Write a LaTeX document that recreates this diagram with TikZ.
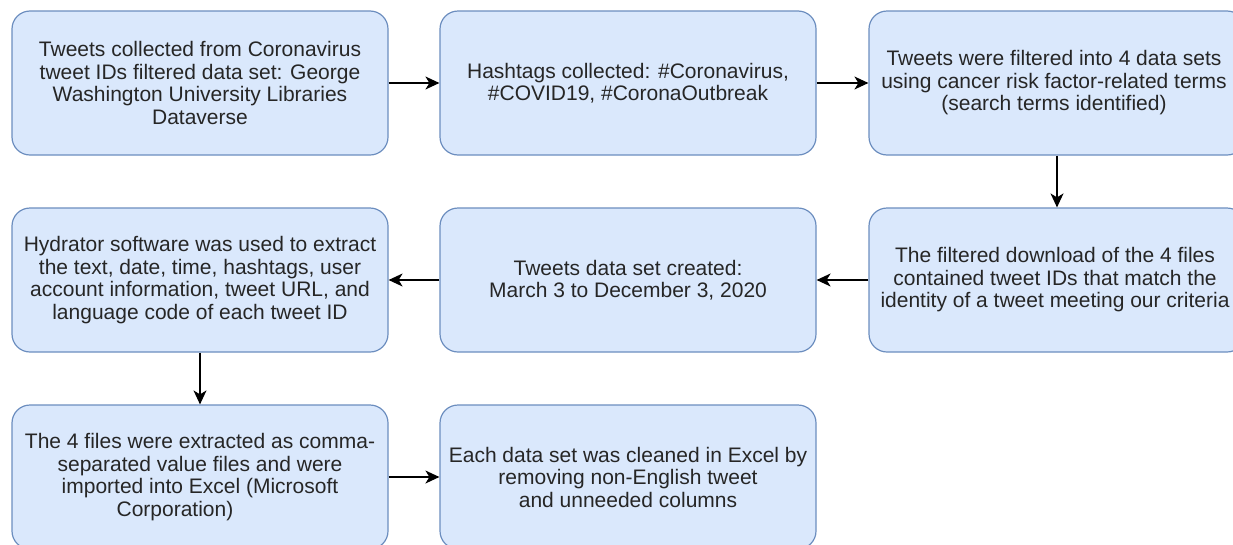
\documentclass[tikz,border=0pt]{standalone}
\usepackage{fontspec}
\setmainfont{Liberation Sans}
\usetikzlibrary{arrows.meta}
\definecolor{boxfill}{HTML}{DAE8FC}
\definecolor{boxline}{HTML}{6C8EBF}
\begin{document}
\begin{tikzpicture}[x=1pt,y=-1pt,
  stepbox/.style={draw=boxline, fill=boxfill, line width=1.2pt, rounded corners=18pt,
    minimum width=376pt, minimum height=144pt, align=center, inner sep=0pt,
    font=\fontsize{21}{22.5}\selectfont, text=black!85},
  conn/.style={line width=1.3pt, -{Stealth[length=14pt,width=13pt,inset=4pt]}}]
\useasboundingbox (0,0) rectangle (1233,544);
\clip (0,0) rectangle (1233,544);
\node[stepbox] (a) at (200,83) {Tweets collected from Coronavirus\\tweet IDs filtered data set: George\\Washington University Libraries\\Dataverse};
\node[stepbox] (b) at (628,83) {Hashtags collected: \#Coronavirus,\\\#COVID19, \#CoronaOutbreak};
\node[stepbox] (c) at (1057,83) {\hspace*{-6pt}Tweets were filtered into 4 data sets\\\hspace*{-6pt}using cancer risk factor-related terms\\\hspace*{-6pt}(search terms identified)};
\node[stepbox] (f) at (1057,280) {\hspace*{-4pt}The filtered download of the 4 files\\\hspace*{-4pt}contained tweet IDs that match the\\\hspace*{-4pt}identity of a tweet meeting our criteria};
\node[stepbox] (e) at (628,280) {Tweets data set created:\\March 3 to December 3, 2020};
\node[stepbox] (d) at (200,280) {Hydrator software was used to extract\\the text, date, time, hashtags, user\\account information, tweet URL, and\\language code of each tweet ID};
\node[stepbox] (g) at (200,477) {The 4 files were extracted as comma-\\separated value files and were\\imported into Excel (Microsoft\\Corporation)\hspace*{50pt}};
\node[stepbox] (h) at (628,477) {Each data set was cleaned in Excel by\\removing non-English tweet\\and unneeded columns};
\draw[conn] (a) -- (b);
\draw[conn] (b) -- (c);
\draw[conn] (c) -- (f);
\draw[conn] (f) -- (e);
\draw[conn] (e) -- (d);
\draw[conn] (d) -- (g);
\draw[conn] (g) -- (h);
\end{tikzpicture}
\end{document}
